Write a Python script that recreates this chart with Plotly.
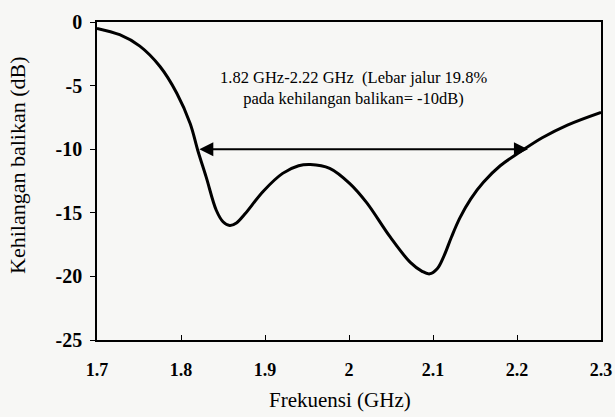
import plotly.graph_objects as go

freq_ghz = [1.700, 1.727, 1.751, 1.775, 1.795, 1.811, 1.820, 1.830, 1.842, 1.850,
            1.858, 1.866, 1.876, 1.898, 1.921, 1.940, 1.954, 1.977, 2.001, 2.021,
            2.049, 2.073, 2.087, 2.096, 2.105, 2.113, 2.122, 2.132, 2.145, 2.160,
            2.180, 2.204, 2.230, 2.260, 2.300]
return_loss_db = [-0.5, -1.0, -1.9, -3.5, -5.6, -8.0, -10.1, -12.2, -14.8, -15.7,
                  -16.0, -15.8, -15.1, -13.3, -11.9, -11.3, -11.2, -11.5, -12.7, -14.2,
                  -16.9, -18.9, -19.6, -19.8, -19.4, -18.4, -16.9, -15.4, -13.9, -12.6,
                  -11.3, -10.2, -9.1, -8.1, -7.1]

x_ticks = [1.7, 1.8, 1.9, 2.0, 2.1, 2.2, 2.3]
x_tick_labels = ["1.7", "1.8", "1.9", "2", "2.1", "2.2", "2.3"]
y_ticks = [0, -5, -10, -15, -20, -25]
y_tick_labels = ["0", "-5", "-10", "-15", "-20", "-25"]

band_start, band_end, band_level = 1.82, 2.213, -10
note_lines = ["1.82 GHz-2.22 GHz&nbsp;&nbsp;(Lebar jalur 19.8%", "pada kehilangan balikan= -10dB)"]
x_title = "Frekuensi (GHz)"
y_title = "Kehilangan balikan (dB)"

serif = "Liberation Serif, Times New Roman, serif"

fig = go.Figure()
fig.add_trace(go.Scatter(x=freq_ghz, y=return_loss_db, mode="lines",
                         line=dict(color="black", width=3, shape="spline", smoothing=1.0),
                         showlegend=False, hoverinfo="skip"))

fig.add_annotation(x=band_end, y=band_level, ax=band_start, ay=band_level,
                   xref="x", yref="y", axref="x", ayref="y", text="",
                   showarrow=True, arrowhead=2, startarrowhead=2, arrowside="end+start",
                   arrowsize=1.4, startarrowsize=1.4, arrowwidth=2, arrowcolor="black")
fig.add_annotation(x=2.005, y=-5.2, xref="x", yref="y",
                   text="<br>".join(note_lines), showarrow=False,
                   font=dict(family=serif, size=16.5, color="black"),
                   align="center")

# axis titles placed as annotations
fig.add_annotation(x=0.482, y=-0.189, xref="paper", yref="paper", text=x_title,
                   showarrow=False, xanchor="center", yanchor="middle",
                   font=dict(family=serif, size=21, color="black"))
fig.add_annotation(x=-0.159, y=0.55, xref="paper", yref="paper", text=y_title,
                   showarrow=False, textangle=-90, xanchor="center", yanchor="middle",
                   font=dict(family=serif, size=22, color="black"))

fig.update_layout(
    width=615, height=417,
    margin=dict(l=97, r=14, t=22, b=77),
    paper_bgcolor="#f7f7f5", plot_bgcolor="#f7f7f5",
    xaxis=dict(range=[1.7, 2.3], tickvals=x_ticks, ticktext=x_tick_labels,
               ticks="inside", ticklen=5, tickcolor="black", showgrid=False, zeroline=False,
               showline=True, linecolor="black", linewidth=1.5, mirror=True,
               tickfont=dict(family=serif, size=18, color="black", weight="bold"),
               ticklabelstandoff=13, automargin=False),
    yaxis=dict(range=[-25, 0], tickvals=y_ticks, ticktext=y_tick_labels,
               ticks="outside", ticklen=5, tickcolor="black", showgrid=False, zeroline=False,
               showline=True, linecolor="black", linewidth=1.5, mirror=True,
               tickfont=dict(family=serif, size=20, color="black", weight="bold"),
               ticklabelstandoff=4, automargin=False),
)

fig.write_html("out.html", config={"displayModeBar": False},
               post_script="document.body.style.margin='0';")
